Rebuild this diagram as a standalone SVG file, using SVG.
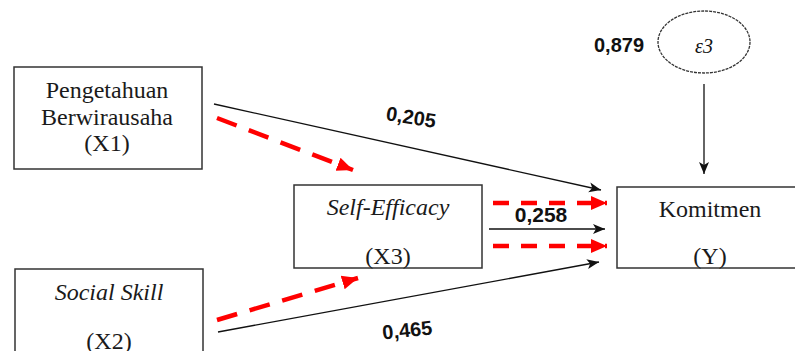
<svg xmlns="http://www.w3.org/2000/svg" width="795" height="351" viewBox="0 0 795 351">
<defs>
<style>
.box{fill:#fff;stroke:#333;stroke-width:1.5}
.lbl{font-family:"Liberation Serif","Times New Roman",serif;font-size:24px;fill:#1a1a1a;text-anchor:middle}
.it{font-style:italic}
.num{font-family:"Liberation Sans",Arial,sans-serif;font-weight:bold;font-size:20px;fill:#111;text-anchor:middle}
.blk{stroke:#111;stroke-width:1.3;fill:none;marker-end:url(#ah)}
.red{stroke:#ff0000;stroke-width:4.5;fill:none;marker-end:url(#rh)}
</style>
<marker id="ah" markerUnits="userSpaceOnUse" markerWidth="14" markerHeight="12" refX="12" refY="6" orient="auto">
<path d="M0,1 L12,6 L0,11 L3,6 Z" fill="#111"/>
</marker>
<marker id="rh" markerUnits="userSpaceOnUse" markerWidth="18" markerHeight="18" refX="16" refY="9" orient="auto">
<path d="M0,2 L16,9 L0,16 Z" fill="#ff0000"/>
</marker>
</defs>
<rect width="795" height="351" fill="#fff"/>

<g id="connectors">
<line class="blk" x1="214" y1="104" x2="601" y2="190"/>
<line class="blk" x1="218" y1="332" x2="599" y2="262"/>
<line class="blk" x1="489" y1="229" x2="605" y2="229"/>
<line class="blk" x1="704" y1="84" x2="704" y2="174"/>
<line class="red" x1="217" y1="118" x2="353" y2="170" stroke-dasharray="21 13"/>
<line class="red" x1="217" y1="320" x2="358" y2="278" stroke-dasharray="21 13"/>
<line class="red" x1="493" y1="203" x2="607" y2="203" stroke-dasharray="16 12"/>
<line class="red" x1="493" y1="246" x2="607" y2="246" stroke-dasharray="16 12"/>
<text class="num" transform="translate(410,124) rotate(9)">0,205</text>
<text class="num" transform="translate(408,337) rotate(-6)">0,465</text>
<text class="num" x="541" y="222" style="font-size:21px">0,258</text>
<text class="num" x="619" y="52">0,879</text>
</g>

<g id="X1">
<rect class="box" x="14" y="67" width="188" height="102"/>
<text class="lbl" x="107" y="98">Pengetahuan</text>
<text class="lbl" x="107" y="125">Berwirausaha</text>
<text class="lbl" x="107" y="151">(X1)</text>
</g>

<g id="X2">
<rect class="box" x="15" y="269" width="188" height="100"/>
<text class="lbl it" x="109" y="300">Social Skill</text>
<text class="lbl" x="109" y="349">(X2)</text>
</g>

<g id="X3">
<rect class="box" x="294" y="185" width="188" height="83"/>
<text class="lbl it" x="388" y="215">Self-Efficacy</text>
<text class="lbl" x="388" y="264">(X3)</text>
</g>

<g id="Y">
<rect class="box" x="617" y="187" width="190" height="81"/>
<text class="lbl" x="710" y="217">Komitmen</text>
<text class="lbl" x="710" y="264">(Y)</text>
</g>

<g id="e3">
<ellipse cx="704" cy="42" rx="46" ry="31" fill="#fff" stroke="#333" stroke-width="1.3" stroke-dasharray="3 1"/>
<text x="704" y="53" style="font-family:'Liberation Serif','Times New Roman',serif;font-style:italic;font-size:20px;fill:#111;text-anchor:middle">ε3</text>
</g>
</svg>
